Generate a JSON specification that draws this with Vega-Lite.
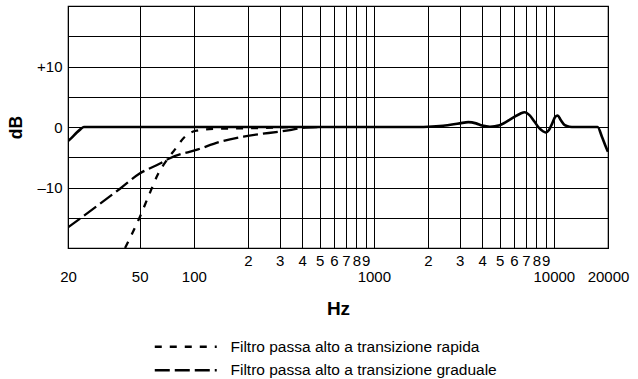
{
  "$schema": "https://vega.github.io/schema/vega-lite/v6.json",
  "width": 540,
  "height": 242,
  "autosize": {"type": "none"},
  "padding": {"left": 68, "top": 6, "right": 30, "bottom": 131},
  "background": "white",
  "config": {
    "font": "Liberation Sans",
    "view": {"stroke": "black", "strokeWidth": 1.2},
    "axis": {"gridColor": "black", "gridOpacity": 1, "gridWidth": 1, "domain": false, "ticks": false, "labelColor": "black", "labelFontSize": 15, "labelFont": "Liberation Sans", "titleFont": "Liberation Sans", "titleColor": "black"}
  },
  "datasets": {
    "resp": [
      {"f": 20, "db": -2.3}, {"f": 21, "db": -1.75}, {"f": 22.3, "db": -0.95}, {"f": 23.5, "db": -0.35},
      {"f": 24.5, "db": 0}, {"f": 30, "db": 0},
      {"f": 100, "db": 0}, {"f": 1000, "db": 0}, {"f": 1800, "db": 0}, {"f": 2000, "db": 0.03},
      {"f": 2430, "db": 0.2}, {"f": 3000, "db": 0.6}, {"f": 3350, "db": 0.8}, {"f": 3700, "db": 0.6},
      {"f": 4000, "db": 0.25}, {"f": 4420, "db": 0.05}, {"f": 5000, "db": 0.3}, {"f": 5970, "db": 1.6},
      {"f": 6500, "db": 2.2}, {"f": 6900, "db": 2.45}, {"f": 7300, "db": 2.0}, {"f": 7800, "db": 0.9},
      {"f": 8300, "db": -0.2}, {"f": 8700, "db": -0.7}, {"f": 9000, "db": -0.9}, {"f": 9400, "db": -0.5},
      {"f": 9800, "db": 0.6}, {"f": 10200, "db": 1.7}, {"f": 10500, "db": 1.9}, {"f": 10900, "db": 1.2},
      {"f": 11500, "db": 0.3}, {"f": 12200, "db": 0.05}, {"f": 13000, "db": 0}, {"f": 17500, "db": 0},
      {"f": 18500, "db": -1.6}, {"f": 19300, "db": -3.0}, {"f": 20000, "db": -4.1}
    ],
    "filt": [
      {"f": 41.5, "db": -20, "s": "Filtro passa alto a transizione rapida"},
      {"f": 50, "db": -14.95, "s": "Filtro passa alto a transizione rapida"},
      {"f": 55.9, "db": -11.5, "s": "Filtro passa alto a transizione rapida"},
      {"f": 63.5, "db": -7.7, "s": "Filtro passa alto a transizione rapida"},
      {"f": 70.6, "db": -5.5, "s": "Filtro passa alto a transizione rapida"},
      {"f": 78.6, "db": -3.7, "s": "Filtro passa alto a transizione rapida"},
      {"f": 89.2, "db": -1.6, "s": "Filtro passa alto a transizione rapida"},
      {"f": 103.3, "db": -0.6, "s": "Filtro passa alto a transizione rapida"},
      {"f": 134, "db": -0.3, "s": "Filtro passa alto a transizione rapida"},
      {"f": 205, "db": -0.2, "s": "Filtro passa alto a transizione rapida"},
      {"f": 342, "db": 0, "s": "Filtro passa alto a transizione rapida"},
      {"f": 20, "db": -16.6, "s": "Filtro passa alto a transizione graduale"},
      {"f": 30.1, "db": -12.7, "s": "Filtro passa alto a transizione graduale"},
      {"f": 38.9, "db": -10.2, "s": "Filtro passa alto a transizione graduale"},
      {"f": 50, "db": -7.7, "s": "Filtro passa alto a transizione graduale"},
      {"f": 64.9, "db": -6.05, "s": "Filtro passa alto a transizione graduale"},
      {"f": 73.1, "db": -5.2, "s": "Filtro passa alto a transizione graduale"},
      {"f": 105.5, "db": -3.7, "s": "Filtro passa alto a transizione graduale"},
      {"f": 140, "db": -2.45, "s": "Filtro passa alto a transizione graduale"},
      {"f": 188.8, "db": -1.6, "s": "Filtro passa alto a transizione graduale"},
      {"f": 342, "db": -0.5, "s": "Filtro passa alto a transizione graduale"},
      {"f": 389, "db": -0.2, "s": "Filtro passa alto a transizione graduale"},
      {"f": 500, "db": 0, "s": "Filtro passa alto a transizione graduale"}
    ]
  },
  "encoding": {
    "x": {
      "field": "f", "type": "quantitative",
      "scale": {"type": "log", "domain": [20, 20000], "nice": false},
      "axis": {
        "values": [20, 50, 100, 200, 300, 400, 500, 600, 700, 800, 900, 1000, 2000, 3000, 4000, 5000, 6000, 7000, 8000, 9000, 10000, 20000],
        "labelExpr": "(datum.value==20||datum.value==50||datum.value==100||datum.value==1000||datum.value==10000||datum.value==20000)?format(datum.value,'d'):(datum.value<1000?format(datum.value/100,'d'):format(datum.value/1000,'d'))",
        "labelPadding": {"condition": {"test": "datum.value==20||datum.value==50||datum.value==100||datum.value==1000||datum.value==10000||datum.value==20000", "value": 21}, "value": 5},
        "labelOverlap": false,
        "labelFlush": false,
        "title": "Hz",
        "titleFontSize": 19,
        "titleFontWeight": "bold",
        "titleY": 60,
        "titleBaseline": "middle"
      }
    },
    "y": {
      "field": "db", "type": "quantitative",
      "scale": {"domain": [-20, 20], "nice": false},
      "axis": {
        "values": [-20, -15, -10, -5, 0, 5, 10, 15, 20],
        "labelExpr": "datum.value==10?'+10':datum.value==0?'0':datum.value==-10?'\u201310':''",
        "labelPadding": 6,
        "title": "dB",
        "titleFontSize": 17.5,
        "titleFontWeight": "bold",
        "titleX": -52,
        "titleY": 121,
        "titleBaseline": "middle",
        "titleAlign": "center"
      }
    }
  },
  "layer": [
    {
      "data": {"name": "resp"},
      "mark": {"type": "line", "color": "black", "strokeWidth": 2.6, "interpolate": "monotone", "clip": true}
    },
    {
      "data": {"name": "filt"},
      "mark": {"type": "line", "color": "black", "strokeWidth": 2.3, "interpolate": "monotone", "clip": true},
      "encoding": {
        "strokeDash": {
          "field": "s", "type": "nominal",
          "scale": {"domain": ["Filtro passa alto a transizione rapida", "Filtro passa alto a transizione graduale"], "range": [[7, 8], [15, 5]]},
          "legend": {
            "title": null,
            "orient": "none",
            "legendX": 110,
            "legendY": 333,
            "padding": 0,
            "symbolType": "M-10,0H10",
            "symbolSize": 38.4,
            "symbolStrokeColor": "black",
            "symbolStrokeWidth": 2.6,
            "labelFontSize": 15.5,
            "labelColor": "black",
            "labelFont": "Liberation Sans",
            "labelOffset": 37,
            "labelLimit": 500,
            "rowPadding": 6.5
          }
        }
      }
    }
  ]
}
